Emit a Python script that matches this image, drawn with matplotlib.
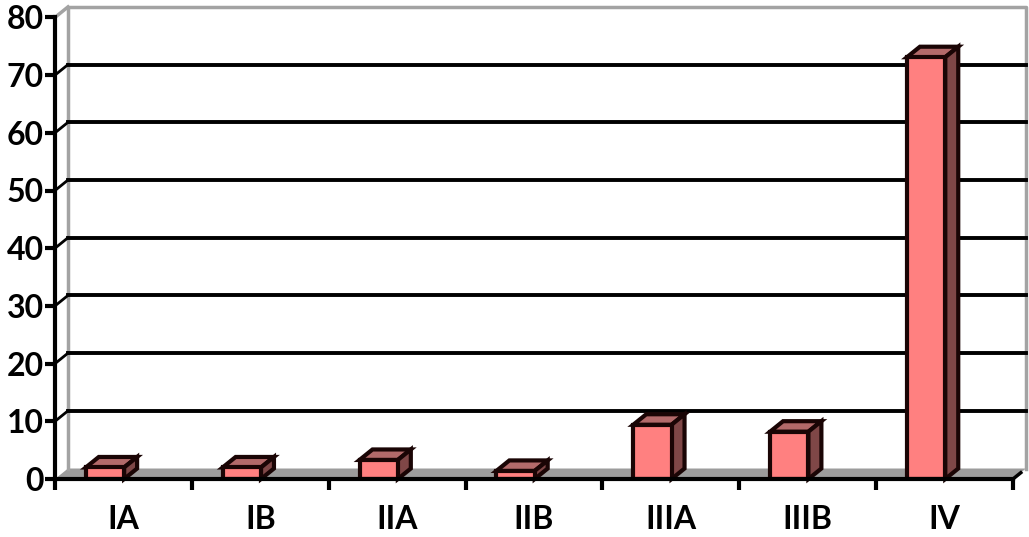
import numpy as np
import matplotlib
matplotlib.use("Agg")
import matplotlib.pyplot as plt

# stage categories and share (%)
stages = ['IA', 'IB', 'IIA', 'IIB', 'IIIA', 'IIIB', 'IV']
values = [2.0, 2.0, 3.3, 1.4, 9.4, 8.2, 73.1]
yticks = [0, 10, 20, 30, 40, 50, 60, 70, 80]

plt.rcParams['font.family'] = ['Lato', 'DejaVu Sans']

W, H = 1029, 537
fig = plt.figure(figsize=(W / 100, H / 100), dpi=100)
# axes box = front plane of the excel-style 3d plot
ax = fig.add_axes([55 / W, 58 / H, (1013 - 55) / W, (80 * 5.77) / H])
ax.set_xlim(-0.5, 6.5)
ax.set_ylim(0, 80)

dx = 13 / 136.9     # depth shift in category units
dy = 10.5 / 5.77    # depth shift in value units
gray = '#a3a3a3'
edge = '#1a0505'

x = np.arange(len(stages))
xl, xr = -0.5, len(stages) - 0.5

# floor
ax.fill([xl, xr, xr + dx, xl + dx], [0, 0, dy, dy], color='#9c9c9c', zorder=1, clip_on=False, lw=0)

# back wall frame
ax.plot([xl + dx, xl + dx, xr + dx, xr + dx], [dy, 80 + dy, 80 + dy, dy], color=gray, lw=2.5, zorder=1, clip_on=False)
ax.plot([xl, xl + dx], [80, 80 + dy], color=gray, lw=2.5, zorder=1, clip_on=False)

# gridlines on the back wall + little diagonals back to the axis
for v in yticks[1:-1]:
    ax.plot([xl + dx, xr + dx], [v + dy, v + dy], color='black', lw=2.8, zorder=2, clip_on=False)
    ax.plot([xl, xl + dx], [v, v + dy], color='black', lw=2, zorder=2, clip_on=False)
ax.plot([xr, xr + dx * 0.6], [0, dy * 0.6], color='black', lw=2.5, zorder=2, clip_on=False)

# bars
bw = 0.28
off = -0.135
ax.bar(x + off, values, width=bw, color='#ff8080', edgecolor=edge, linewidth=3, zorder=4)
for xi, v in zip(x + off, values):
    x0, x1 = xi - bw / 2, xi + bw / 2
    ax.fill([x0, x1, x1 + dx, x0 + dx], [v, v, v + dy, v + dy], facecolor='#b36a6a', edgecolor=edge, lw=3, zorder=3, clip_on=False)
    ax.fill([x1, x1 + dx, x1 + dx, x1], [0, dy, v + dy, v], facecolor='#7f4747', edgecolor=edge, lw=3, zorder=3, clip_on=False)

# axes styling
for s in ['top', 'right']:
    ax.spines[s].set_visible(False)
ax.spines['left'].set_linewidth(3)
ax.spines['bottom'].set_linewidth(3)
ax.spines['left'].set_zorder(5)
ax.spines['bottom'].set_zorder(5)
ax.patch.set_alpha(0)

ax.set_yticks(yticks)
ax.set_yticklabels([str(t) for t in yticks], fontsize=23, fontweight='bold')
ax.tick_params(axis='y', length=7, width=3, pad=1)

ax.set_xticks(np.arange(-0.5, 7.0, 1.0), minor=False)
ax.set_xticklabels([])
ax.set_xticks(x, minor=True)
ax.set_xticklabels(stages, minor=True, fontsize=23, fontweight='bold')
ax.tick_params(axis='x', which='major', direction='out', length=8, width=3)
ax.tick_params(axis='x', which='minor', length=0, pad=19)

fig.savefig('out.png', dpi=100, facecolor='white')
